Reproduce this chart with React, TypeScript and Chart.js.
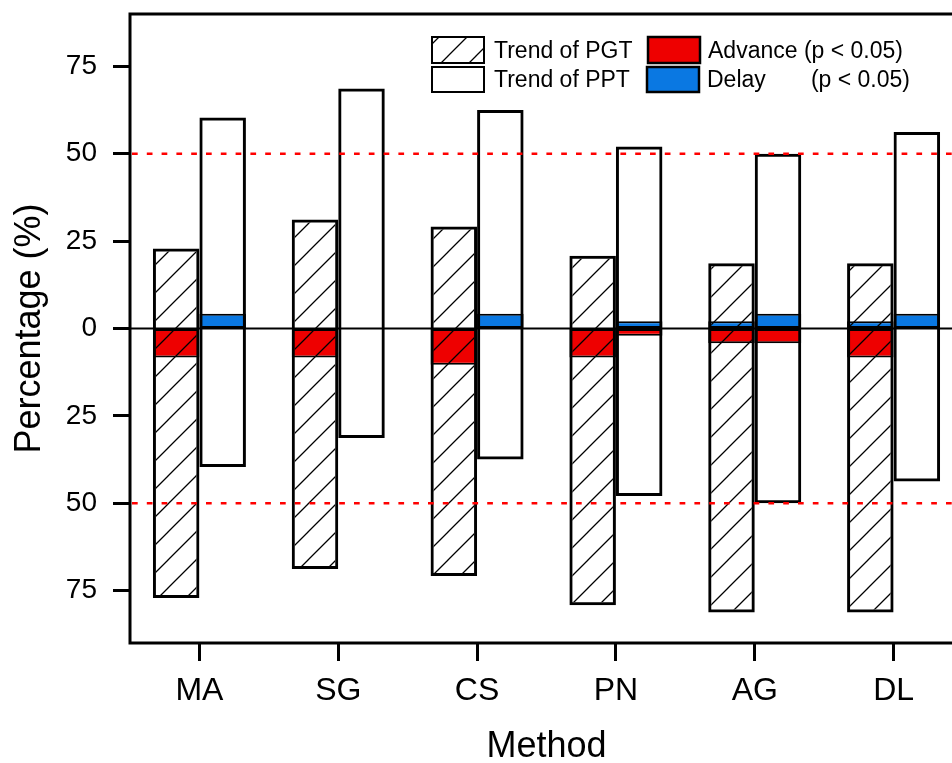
import React, { useEffect, useRef } from "react";
import { Chart, registerables } from "chart.js";

Chart.register(...registerables);

const FONT = "'Liberation Sans', Arial, Helvetica, sans-serif";

// ---- data (percent of pixels) ----
const methods = ["MA", "SG", "CS", "PN", "AG", "DL"];
const pgtUpper = [22.9, 31.2, 29.2, 20.8, 18.7, 18.7];
const pgtLower = [-77.1, -68.8, -70.8, -79.2, -81.3, -81.3];
const pptUpper = [60.4, 68.7, 62.5, 52.1, 50.0, 56.2];
const pptLower = [-39.6, -31.3, -37.5, -47.9, -50.0, -43.8];
const pgtAdvance = [-8.3, -8.3, -10.4, -8.3, -4.2, -8.3];
const pgtDelay: (number | null)[] = [null, null, null, null, 2.1, 2.1];
const pptAdvance: (number | null)[] = [null, null, null, -2.1, -4.2, null];
const pptDelay: (number | null)[] = [4.2, null, 4.2, 2.1, 4.2, 4.2];
const yTickValues = [-75, -50, -25, 0, 25, 50, 75];
const thresholdLines = [50, -50];
const legendLeft = ["Trend of PGT", "Trend of PPT"];
const legendRight = ["Advance (p < 0.05)", "Delay", "(p < 0.05)"];

const RED = "#EE0000";
const BLUE = "#0A78E2";

function makeHatch(): CanvasPattern | string {
  const s = 28;
  const c = document.createElement("canvas");
  c.width = s;
  c.height = s;
  const g = c.getContext("2d");
  if (!g) return "rgba(0,0,0,0)";
  g.strokeStyle = "#000";
  g.lineWidth = 1.3;
  g.beginPath();
  g.moveTo(-2, s + 2);
  g.lineTo(s + 2, -2);
  g.moveTo(-2, 2);
  g.lineTo(2, -2);
  g.moveTo(s - 2, s + 2);
  g.lineTo(s + 2, s - 2);
  g.stroke();
  const p = g.createPattern(c, "repeat");
  return p || "rgba(0,0,0,0)";
}

function range(lo: (number | null)[], hi: (number | null)[]) {
  return lo.map((l, i) => {
    const h = hi[i];
    if (l === null || h === null) return null;
    return [l, h];
  });
}

export default function App() {
  const ref = useRef<HTMLCanvasElement>(null);

  useEffect(() => {
    const canvas = ref.current;
    if (!canvas) return;
    const hatch = makeHatch();
    const zeros = methods.map(() => 0);

    const overlay = {
      id: "overlay",
      afterDatasetsDraw(chart: any) {
        const { ctx, chartArea: a, scales } = chart;
        const y = scales.y;
        ctx.save();
        ctx.strokeStyle = "#000";
        ctx.lineWidth = 2;
        const y0 = y.getPixelForValue(0);
        ctx.beginPath();
        ctx.moveTo(a.left, y0);
        ctx.lineTo(a.right, y0);
        ctx.stroke();
        ctx.strokeStyle = "#FF0000";
        ctx.lineWidth = 2.5;
        ctx.setLineDash([5.7, 9.1]);
        for (const v of thresholdLines) {
          const py = y.getPixelForValue(v);
          ctx.beginPath();
          ctx.moveTo(a.left + 2, py);
          ctx.lineTo(a.right, py);
          ctx.stroke();
        }
        ctx.restore();
      },
      afterDraw(chart: any) {
        const { ctx, chartArea: a } = chart;
        ctx.save();
        ctx.strokeStyle = "#000";
        ctx.lineWidth = 3;
        ctx.strokeRect(a.left, a.top, a.right - a.left, a.bottom - a.top);

        // legend
        ctx.lineWidth = 2;
        ctx.fillStyle = hatch as any;
        ctx.fillRect(432, 37, 52, 26);
        ctx.strokeRect(432, 37, 52, 26);
        ctx.strokeRect(432, 67, 52, 25);
        ctx.lineWidth = 2.5;
        ctx.fillStyle = RED;
        ctx.fillRect(648, 37, 52, 26);
        ctx.strokeRect(648, 37, 52, 26);
        ctx.fillStyle = BLUE;
        ctx.fillRect(647, 67, 52, 25);
        ctx.strokeRect(647, 67, 52, 25);

        ctx.fillStyle = "#000";
        ctx.font = `23px ${FONT}`;
        ctx.textBaseline = "alphabetic";
        ctx.textAlign = "left";
        ctx.fillText(legendLeft[0], 494, 58);
        ctx.fillText(legendLeft[1], 494, 87);
        ctx.fillText(legendRight[0], 708, 58);
        ctx.fillText(legendRight[1], 707, 87);
        ctx.textAlign = "right";
        ctx.fillText(legendRight[2], 910, 87);
        ctx.restore();
      },
    };

    const trendBase = {
      borderColor: "#000",
      borderWidth: 3,
      borderSkipped: false,
      order: 0,
    };
    const sigBase = {
      borderColor: "#000",
      borderWidth: 2,
      borderSkipped: false,
      order: 1,
    };

    const chart = new Chart(canvas, {
      type: "bar",
      data: {
        labels: methods,
        datasets: [
          { ...trendBase, label: "Trend of PGT", data: range(pgtLower, pgtUpper) as any, backgroundColor: hatch as any, stack: "PGT" },
          { ...trendBase, label: "Trend of PPT", data: range(pptLower, pptUpper) as any, backgroundColor: "rgba(0,0,0,0)", stack: "PPT" },
          { ...sigBase, label: "Advance PGT", data: range(pgtAdvance, zeros) as any, backgroundColor: RED, stack: "PGT" },
          { ...sigBase, label: "Delay PGT", data: range(zeros, pgtDelay) as any, backgroundColor: BLUE, stack: "PGT" },
          { ...sigBase, label: "Advance PPT", data: range(pptAdvance, zeros) as any, backgroundColor: RED, stack: "PPT" },
          { ...sigBase, label: "Delay PPT", data: range(zeros, pptDelay) as any, backgroundColor: BLUE, stack: "PPT" },
        ] as any,
      },
      options: {
        responsive: false,
        devicePixelRatio: 1,
        animation: false,
        layout: { padding: { top: 14, left: 0, right: 0, bottom: 0 } },
        datasets: { bar: { categoryPercentage: 0.67, barPercentage: 1 } } as any,
        plugins: { legend: { display: false }, tooltip: { enabled: false } },
        scales: {
          x: {
            stacked: true,
            offset: true,
            grid: {
              drawOnChartArea: false,
              offset: false,
              tickLength: 18,
              tickWidth: 3,
              tickColor: "#000",
            },
            border: { display: false },
            ticks: { font: { family: FONT, size: 32 }, color: "#000", padding: 11 },
            title: {
              display: true,
              text: "Method",
              color: "#000",
              font: { family: FONT, size: 36, lineHeight: 1 },
              padding: { top: 0, bottom: -2 },
            },
            afterFit: (s: any) => {
              s.height = 120;
              s.paddingLeft = 0;
              s.paddingRight = 0;
            },
          },
          y: {
            stacked: false,
            min: -90,
            max: 90,
            afterBuildTicks: (s: any) => {
              s.ticks = yTickValues.map((v) => ({ value: v }));
            },
            grid: {
              drawOnChartArea: false,
              tickLength: 17,
              tickWidth: 3,
              tickColor: "#000",
            },
            border: { display: false },
            ticks: {
              font: { family: FONT, size: 28 },
              color: "#000",
              padding: 16,
              callback: (v: any) => String(Math.abs(Number(v))),
            },
            title: {
              display: true,
              text: "Percentage (%)",
              color: "#000",
              font: { family: FONT, size: 36 },
              padding: { top: 8, bottom: 0 },
            },
            afterFit: (s: any) => {
              s.width = 130;
              s.paddingTop = 0;
              s.paddingBottom = 0;
            },
          },
        },
      } as any,
      plugins: [overlay],
    });

    return () => chart.destroy();
  }, []);

  return (
    <div
      style={{
        position: "fixed",
        left: 0,
        top: 0,
        width: 952,
        height: 763,
        overflow: "hidden",
        background: "#fff",
      }}
    >
      <canvas
        ref={ref}
        width={963}
        height={763}
        style={{ display: "block", width: 963, height: 763 }}
      />
    </div>
  );
}
